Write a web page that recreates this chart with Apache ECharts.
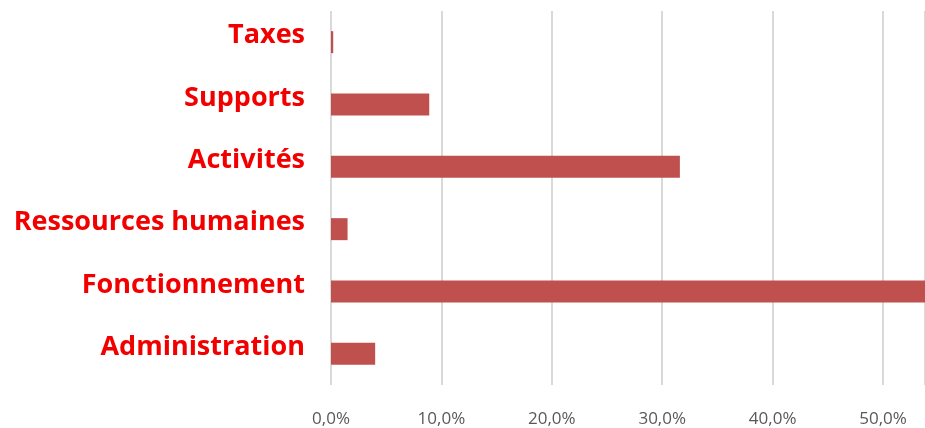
<!DOCTYPE html>
<html>
<head>
<meta charset="utf-8">
<script src="https://cdn.jsdelivr.net/npm/echarts@6/dist/echarts.min.js"></script>
<style>
html,body{margin:0;padding:0;background:#fff;overflow:hidden;}
#chart{width:940px;height:428px;}
</style>
</head>
<body>
<div id="chart"></div>
<script>
// Budget share per spending area (bottom to top on the chart)
const categories = ['Administration', 'Fonctionnement', 'Ressources humaines', 'Activités', 'Supports', 'Taxes'];
const shares = [4.0, 53.8, 1.5, 31.6, 8.9, 0.2];
const tickValues = [0, 10, 20, 30, 40, 50];

const chart = echarts.init(document.getElementById('chart'));
chart.setOption({
  animation: false,
  grid: { left: 331, top: 11, width: 594, height: 376, containLabel: false },
  xAxis: {
    type: 'value',
    min: 0,
    max: 53.8,
    interval: 10,
    axisLine: { show: false },
    axisTick: { show: false },
    splitLine: { show: true, lineStyle: { color: '#d9d9d9', width: 2 } },
    axisLabel: {
      margin: 26,
      color: '#595959',
      fontSize: 17,
      fontFamily: 'Open Sans',
      formatter: v => tickValues.includes(v) ? v.toFixed(1).replace('.', ',') + '%' : ''
    }
  },
  yAxis: {
    type: 'category',
    data: categories,
    axisLine: { show: false },
    axisTick: { show: false },
    axisLabel: {
      margin: 26,
      color: '#f20000',
      fontSize: 27,
      fontWeight: 'bold',
      fontFamily: 'Open Sans',
      verticalAlign: 'bottom',
      lineHeight: 13
    }
  },
  series: [{
    type: 'bar',
    data: shares,
    barWidth: 22,
    itemStyle: { color: '#c0504d' }
  }]
});
</script>
</body>
</html>
